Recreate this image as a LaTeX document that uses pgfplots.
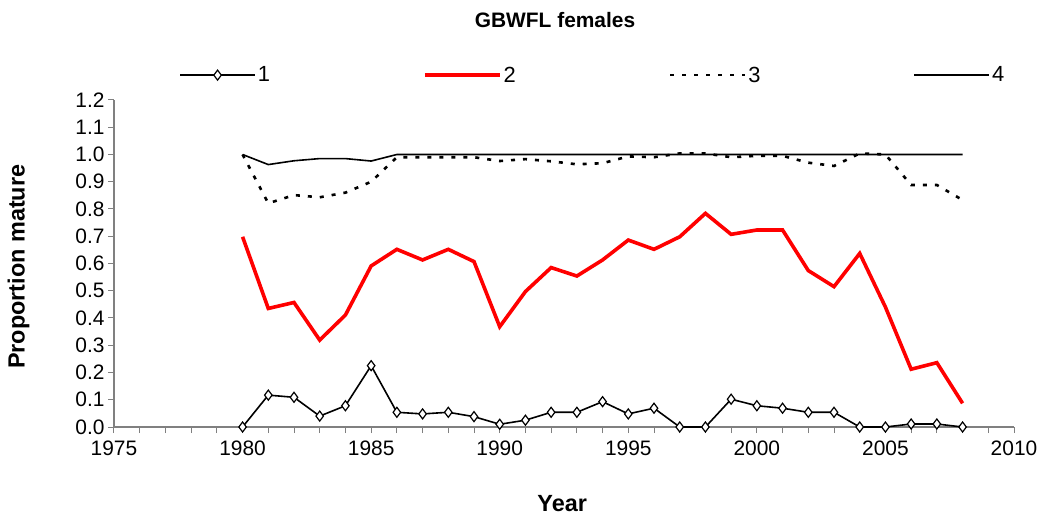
\documentclass[border=0pt]{standalone}
\usepackage{fontspec}
\setmainfont{Liberation Sans}
\usepackage{pgfplots}
\pgfplotsset{compat=1.18}
\usepackage{pgfplotstable}

\pgfplotstableread{
year s1 s2 s3 s4
1980 0.000 0.698 1.000 1.000
1981 0.117 0.435 0.821 0.963
1982 0.109 0.457 0.851 0.977
1983 0.040 0.319 0.843 0.985
1984 0.078 0.411 0.860 0.985
1985 0.225 0.591 0.900 0.976
1986 0.054 0.652 0.990 1.000
1987 0.048 0.613 0.990 1.000
1988 0.054 0.652 0.990 1.000
1989 0.038 0.607 0.990 1.000
1990 0.010 0.368 0.976 1.000
1991 0.025 0.497 0.983 1.000
1992 0.054 0.585 0.975 1.000
1993 0.054 0.554 0.964 1.000
1994 0.093 0.613 0.968 1.000
1995 0.048 0.686 0.993 1.000
1996 0.069 0.652 0.990 1.000
1997 0.000 0.698 1.004 1.000
1998 0.000 0.784 1.004 1.000
1999 0.102 0.707 0.990 1.000
2000 0.078 0.723 0.995 1.000
2001 0.069 0.723 0.995 1.000
2002 0.054 0.574 0.970 1.000
2003 0.054 0.515 0.958 1.000
2004 0.000 0.637 1.004 1.000
2005 0.000 0.440 1.000 1.000
2006 0.011 0.212 0.888 1.000
2007 0.011 0.236 0.888 1.000
2008 0.000 0.087 0.833 1.000
}\datatable

\definecolor{axgray}{RGB}{128,128,128}
\definecolor{exred}{RGB}{255,0,0}

\begin{document}
\begin{tikzpicture}
\begin{axis}[
  scale only axis,
  width=900bp, height=327bp,
  xmin=1975, xmax=2010,
  ymin=0, ymax=1.2,
  axis x line*=bottom,
  axis y line*=left,
  axis line style={axgray, line width=1.2bp, -},
  xtick={1975,1980,...,2010},
  minor x tick num=4,
  ytick={0,0.1,...,1.21},
  tick style={axgray, line width=1bp},
  major tick length=6bp,
  minor tick length=6bp,
  tick align=outside,
  xticklabel style={/pgf/number format/1000 sep={}, /pgf/number format/assume math mode=true, yshift=-4bp},
  yticklabel style={/pgf/number format/.cd, fixed, fixed zerofill, precision=1, assume math mode=true},
  ticklabel style={font=\fontsize{21}{25}\selectfont},
  title={\textbf{GBWFL females}},
  title style={font=\fontsize{21}{25}\selectfont, at={(axis description cs:0.49,1.227)}, anchor=center},
  xlabel={\textbf{Year}},
  xlabel style={font=\fontsize{23.5}{28}\selectfont, at={(axis description cs:0.498,-0.233)}, anchor=center},
  ylabel={\textbf{Proportion mature}},
  ylabel style={font=\fontsize{23.5}{28}\selectfont, at={(axis description cs:-0.106,0.49)}, anchor=center, rotate=0},
  legend style={draw=none, fill=none, at={(axis description cs:0.532,1.076)}, anchor=center,
    font=\fontsize{22}{26}\selectfont,
    /tikz/every even column/.append style={column sep=151bp}},
  legend columns=4,
  legend image code/.code={\draw[mark repeat=2,mark phase=2,#1] plot coordinates {(0bp,0bp) (37.5bp,0bp) (75bp,0bp)};},
  clip=false,
]
\addplot[black, line width=1.6bp, mark=diamond*, mark size=5bp, mark options={fill=white, line width=1.2bp, solid}] table[x=year, y=s1] {\datatable};
\addlegendentry{1}
\addplot[exred, line width=3.6bp] table[x=year, y=s2] {\datatable};
\addlegendentry{2}
\addplot[black, line width=2.6bp, dash pattern=on 4bp off 8bp] table[x=year, y=s3] {\datatable};
\addlegendentry{3}
\addplot[black, line width=1.6bp] table[x=year, y=s4] {\datatable};
\addlegendentry{4}
\end{axis}
\pgfresetboundingbox
\path (-114bp,-92bp) rectangle (926bp,427bp);
\end{tikzpicture}
\end{document}
